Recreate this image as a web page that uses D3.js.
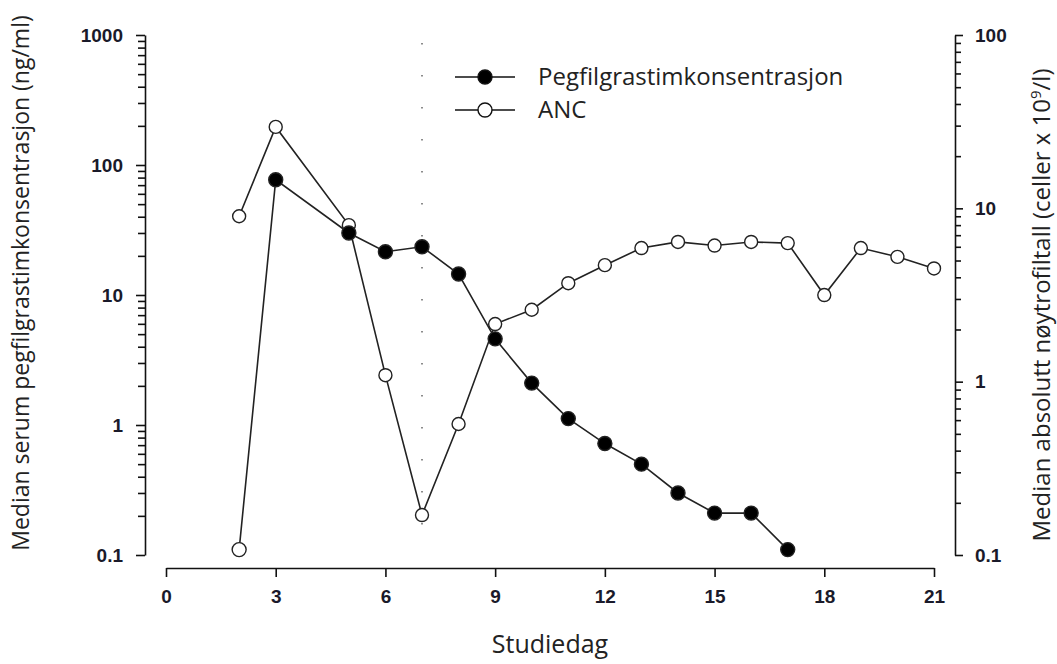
<!DOCTYPE html>
<html>
<head>
<meta charset="utf-8">
<script src="https://cdn.jsdelivr.net/npm/d3@7"></script>
<style>
  body { margin: 0; background: #fff; }
  .tick text { font-family: "Liberation Sans", Arial, sans-serif; font-weight: bold; fill: #1a1a2a; }
  .title { font-family: "Open Sans", sans-serif; fill: #222; }
</style>
</head>
<body>
<div id="chart-area"></div>
<script>
// dados
const pegDays = [2, 3, 5, 6, 7, 8, 9, 10, 11, 12, 13, 14, 15, 16, 17]
const pegValues = [0.11, 77, 30, 21.5, 23.5, 14.5, 4.6, 2.1, 1.12, 0.72, 0.5, 0.3, 0.21, 0.21, 0.11]
const pegHollowDays = [2] // under kvantifiseringsgrensen, tegnet åpen
const ancDays = [2, 3, 5, 6, 7, 8, 9, 10, 11, 12, 13, 14, 15, 16, 17, 18, 19, 20, 21]
const ancValues = [9.0, 29.5, 8.0, 1.09, 0.17, 0.57, 2.15, 2.6, 3.7, 4.7, 5.9, 6.4, 6.1, 6.4, 6.3, 3.16, 5.9, 5.25, 4.5]
const xTicks = [0, 3, 6, 9, 12, 15, 18, 21]
const leftTicks = [0.1, 1, 10, 100, 1000]
const rightTicks = [0.1, 1, 10, 100]
const markerDay = 7

const W = 1057, H = 664
const margin = { left: 145, right: 102, top: 35, bottom: 109 }
const width = W - margin.left - margin.right
const height = H - margin.top - margin.bottom

const svg = d3.select("#chart-area").append("svg")
  .attr("width", W)
  .attr("height", H)

const g = svg.append("g")
  .attr("transform", `translate(${margin.left}, ${margin.top})`)

// escalas
const x = d3.scaleLinear().domain([0, 21]).range([21, 789])
const yL = d3.scaleLog().domain([0.1, 1000]).range([height, 0])
const yR = d3.scaleLog().domain([0.1, 100]).range([height, 0])

// ticks menores de escala log
function minors(lo, hi) {
  const out = []
  for (let p = lo; p < hi; p *= 10)
    for (let k = 2; k <= 9; k++) out.push(p * k)
  return out
}

// eixo esquerdo
g.append("g").attr("class", "y axis minor")
  .call(d3.axisLeft(yL).tickValues(minors(0.1, 1000)).tickSize(7).tickFormat(""))
  .call(s => s.select(".domain").remove())
g.append("g").attr("class", "y axis")
  .call(d3.axisLeft(yL).tickValues(leftTicks).tickSize(9).tickSizeOuter(0).tickPadding(13)
    .tickFormat(d => String(d)))
  .attr("font-size", "19px")

// eixo direito
g.append("g").attr("class", "y2 axis minor")
  .attr("transform", `translate(${width}, 0)`)
  .call(d3.axisRight(yR).tickValues(minors(0.1, 100)).tickSize(6).tickFormat(""))
  .call(s => s.select(".domain").remove())
g.append("g").attr("class", "y2 axis")
  .attr("transform", `translate(${width}, 0)`)
  .call(d3.axisRight(yR).tickValues(rightTicks).tickSize(8).tickSizeOuter(0).tickPadding(12)
    .tickFormat(d => String(d)))
  .attr("font-size", "19px")

// eixo x
g.append("g").attr("class", "x axis")
  .attr("transform", `translate(0, ${height + 13})`)
  .call(d3.axisBottom(x).tickValues(xTicks).tickSize(9).tickSizeOuter(0).tickPadding(13))
  .attr("font-size", "19px")

g.selectAll(".axis path, .axis line").attr("stroke", "#111").attr("stroke-width", 1.6)

// linha pontilhada no dia 7
g.append("line")
  .attr("x1", x(markerDay)).attr("x2", x(markerDay))
  .attr("y1", 8).attr("y2", 494)
  .attr("stroke", "#666")
  .attr("stroke-width", 1.5)
  .attr("stroke-dasharray", "1.5,30.5")

// séries
const pegData = pegDays.map((d, i) => ({ day: d, v: pegValues[i] }))
const ancData = ancDays.map((d, i) => ({ day: d, v: ancValues[i] }))

const linePeg = d3.line().x(d => x(d.day)).y(d => yL(d.v))
const lineAnc = d3.line().x(d => x(d.day)).y(d => yR(d.v))

g.append("path").datum(ancData)
  .attr("d", lineAnc).attr("fill", "none").attr("stroke", "#222").attr("stroke-width", 1.6)
g.append("path").datum(pegData)
  .attr("d", linePeg).attr("fill", "none").attr("stroke", "#222").attr("stroke-width", 1.6)

g.selectAll(".anc").data(ancData).enter().append("circle")
  .attr("class", "anc")
  .attr("cx", d => x(d.day)).attr("cy", d => yR(d.v)).attr("r", 6.5)
  .attr("fill", "#fff").attr("stroke", "#222").attr("stroke-width", 1.4)

g.selectAll(".peg").data(pegData).enter().append("circle")
  .attr("class", "peg")
  .attr("cx", d => x(d.day)).attr("cy", d => yL(d.v)).attr("r", 7)
  .attr("fill", d => pegHollowDays.includes(d.day) ? "#fff" : "#000")
  .attr("stroke", "#222").attr("stroke-width", 1.4)

// legenda
const legend = g.append("g").attr("transform", "translate(310, 42)")
const legItems = [{ label: "Pegfilgrastimkonsentrasjon", fill: "#000" }, { label: "ANC", fill: "#fff" }]
legItems.forEach((it, i) => {
  const row = legend.append("g").attr("transform", `translate(0, ${i * 33})`)
  row.append("line").attr("x1", 0).attr("x2", 60).attr("y1", 0).attr("y2", 0)
    .attr("stroke", "#111").attr("stroke-width", 1.6)
  row.append("circle").attr("cx", 30).attr("cy", 0).attr("r", 7)
    .attr("fill", it.fill).attr("stroke", "#111").attr("stroke-width", 1.4)
  row.append("text").attr("class", "title")
    .attr("x", 83).attr("y", 0).attr("dy", "0.35em")
    .attr("font-size", "24px")
    .text(it.label)
})

// títulos dos eixos
svg.append("text").attr("class", "title")
  .attr("x", (margin.left + 21 + margin.left + 789) / 2)
  .attr("y", 653)
  .attr("font-size", "25px")
  .attr("text-anchor", "middle")
  .text("Studiedag")

svg.append("text").attr("class", "title")
  .attr("transform", "translate(29, 283) rotate(-90)")
  .attr("font-size", "23px")
  .attr("text-anchor", "middle")
  .text("Median serum pegfilgrastimkonsentrasjon (ng/ml)")

const rt = svg.append("text").attr("class", "title")
  .attr("transform", "translate(1050, 305) rotate(-90)")
  .attr("font-size", "24px")
  .attr("text-anchor", "middle")
rt.append("tspan").text("Median absolutt nøytrofiltall (celler x 10")
rt.append("tspan").attr("font-size", "15px").attr("dy", "-9").text("9")
rt.append("tspan").attr("dy", "9").text("/l)")
</script>
</body>
</html>
